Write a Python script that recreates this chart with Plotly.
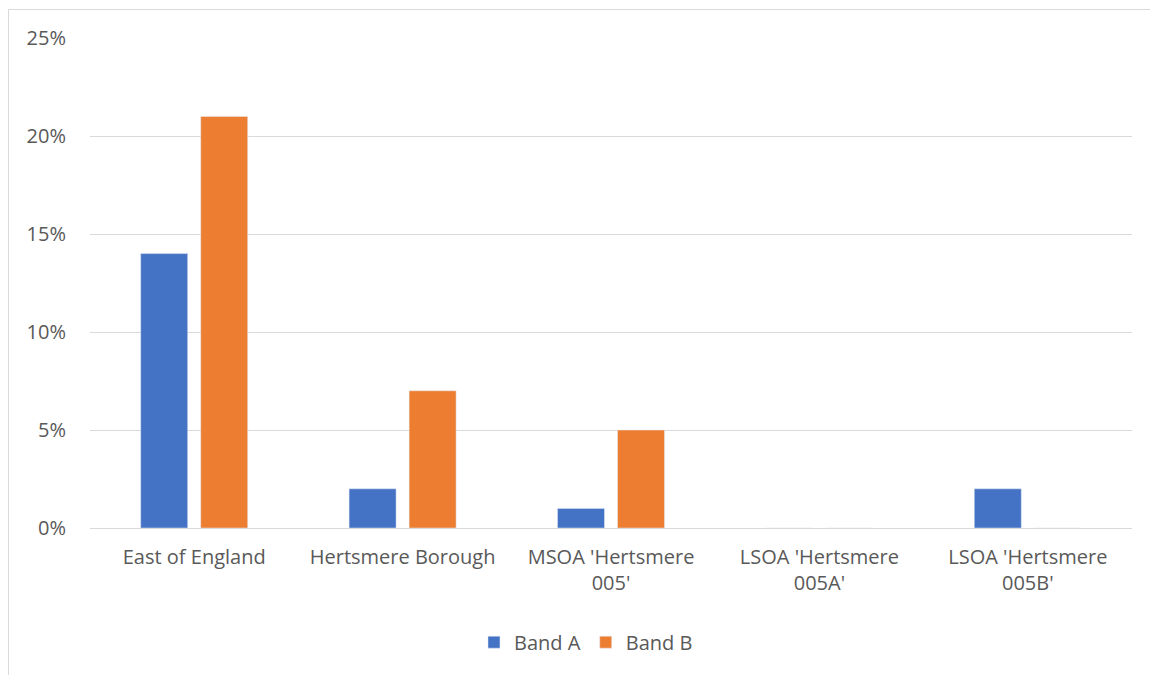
import plotly.graph_objects as go

categories = ["East of England", "Hertsmere Borough", "MSOA 'Hertsmere<br>005'",
              "LSOA 'Hertsmere<br>005A'", "LSOA 'Hertsmere<br>005B'"]
band_a = [0.14, 0.02, 0.01, 0.0, 0.02]
band_b = [0.21, 0.07, 0.05, 0.0, 0.0]
y_ticks = [0, 0.05, 0.10, 0.15, 0.20, 0.25]

# page has an 8px body margin; figure sits at (8, 8)
W, H = 1150, 667
ml, mr, mt, mb = 82, 26, 30, 147

fig = go.Figure()
fig.add_trace(go.Bar(name="Band A", x=categories, y=band_a, marker_color="#4472C4"))
fig.add_trace(go.Bar(name="Band B", x=categories, y=band_b, marker_color="#ED7D31"))

pw = W - ml - mr
ph = H - mt - mb
# chart border (left and top edges)
x0 = (0.5 - ml) / pw
y1 = 1 + (mt - 1.5) / ph
fig.add_shape(type="line", xref="paper", yref="paper", x0=x0, x1=x0, y0=-mb / ph, y1=y1,
              line=dict(color="#d9d9d9", width=1))
fig.add_shape(type="line", xref="paper", yref="paper", x0=x0, x1=1 + mr / pw, y0=y1, y1=y1,
              line=dict(color="#d9d9d9", width=1))

fnt = "Open Sans, Liberation Sans, Arial, sans-serif"
fig.update_layout(
    width=W, height=H,
    margin=dict(l=ml, r=mr, t=mt, b=mb),
    paper_bgcolor="white", plot_bgcolor="white",
    barmode="group", bargap=0.424, bargroupgap=0.217,
    font=dict(family=fnt, size=20, color="#595959"),
    showlegend=True,
    legend=dict(orientation="h", x=0.476, xanchor="center", y=-0.233, yanchor="middle",
                font=dict(size=20, color="#595959"), traceorder="normal",
                itemwidth=30),
    xaxis=dict(showgrid=False, showline=True, linecolor="#d9d9d9", linewidth=1,
               ticks="", ticklabelstandoff=11, tickfont=dict(size=20)),
    yaxis=dict(range=[0, 0.25], tickvals=y_ticks, tickformat=".0%",
               showgrid=True, gridcolor="#d9d9d9", gridwidth=1, zeroline=False,
               showline=False, ticks="", ticklabelstandoff=23, tickfont=dict(size=20)),
)
fig.write_html("out.html")
